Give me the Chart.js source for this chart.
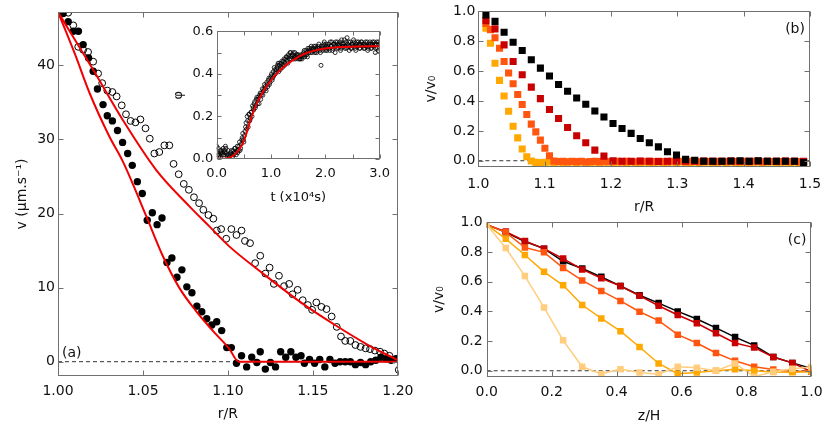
<!DOCTYPE html>
<html>
<head>
<meta charset="utf-8">
<script src="https://cdn.jsdelivr.net/npm/chart.js@4.4.1/dist/chart.umd.min.js"></script>
<style>
body { margin: 0; background: #fff; }
#wrap { position: relative; width: 830px; height: 425px; overflow: hidden; }
canvas { position: absolute; }
</style>
</head>
<body>
<div id="wrap">
  <canvas id="ca" width="420" height="425" style="left:0px;top:0px"></canvas>
  <canvas id="cb" width="410" height="220" style="left:420px;top:0px"></canvas>
  <canvas id="cc" width="410" height="215" style="left:420px;top:210px"></canvas>
  <canvas id="ci" width="237" height="190" style="left:160px;top:20px"></canvas>
</div>
<script>
// ---- panel (a): velocity profiles ----
const filledR = [1.000,1.003,1.006,1.009,1.012,1.0148,1.018,1.0207,1.0232,1.0265,1.029,1.032,1.035,1.038,1.041,1.0437,1.0467,1.0496,1.0525,1.0555,1.0583,1.0612,1.0641,1.067,1.070,1.0729,1.0758,1.0788,1.0817,1.0846,1.0875,1.0905,1.0934,1.0963,1.0993,1.102,1.105,1.108,1.111,1.114,1.117,1.119,1.122,1.125,1.128,1.131,1.134,1.137,1.140,1.143,1.145,1.148,1.151,1.154,1.157,1.160,1.163,1.166,1.169,1.172,1.175,1.178,1.181,1.184,1.187,1.190,1.193,1.196,1.199,1.200];
const filledV = [47.0,47.0,45.9,44.6,44.6,42.8,41.0,39.2,36.8,34.7,33.2,32.5,31.2,29.6,28.1,26.5,24.3,22.7,19.1,20.1,18.5,19.4,13.4,14.0,11.4,12.4,10.1,9.3,7.5,6.75,5.8,4.95,5.4,4.2,1.9,1.9,-0.2,0.8,-0.7,0.6,-0.1,1.35,-1.0,-0.1,-0.7,1.35,0.6,1.35,0.6,0.8,-0.2,0.3,-0.2,0.3,-0.7,0.3,-0.2,0.0,0.0,0.0,-0.4,-0.1,-0.4,0.0,0.2,0.6,0.4,0.2,0.4,0.3];
const openR = [1.006,1.009,1.0119,1.0148,1.0177,1.0207,1.0236,1.026,1.029,1.032,1.0345,1.0375,1.040,1.0427,1.0456,1.0485,1.0515,1.054,1.0567,1.0596,1.0626,1.0655,1.068,1.071,1.074,1.077,1.080,1.083,1.0855,1.0885,1.0914,1.0934,1.096,1.099,1.102,1.105,1.108,1.110,1.113,1.116,1.119,1.122,1.1245,1.127,1.130,1.133,1.136,1.138,1.141,1.144,1.147,1.1495,1.152,1.155,1.158,1.161,1.164,1.1665,1.169,1.172,1.175,1.178,1.181,1.1836,1.1865,1.1895,1.192,1.195,1.198,1.2005];
const openV = [47.1,45.4,42.5,42.1,41.8,40.5,38.9,37.6,36.6,36.4,35.8,34.6,33.4,32.5,32.3,32.7,31.5,30.1,28.1,28.3,29.2,29.2,26.7,25.3,24.0,23.2,22.2,21.4,20.5,19.8,19.3,17.7,17.9,16.6,17.9,17.1,17.7,16.3,16.0,13.3,14.3,11.9,12.7,10.5,11.6,10.2,10.5,9.1,9.7,8.3,7.65,7.0,8.0,7.4,7.1,6.1,4.7,3.4,2.8,2.8,2.25,2.0,1.8,1.7,1.5,1.35,1.1,0.8,0.3,-1.1];
const fitInR = [1.000,1.010,1.0187,1.030,1.0382,1.044,1.052,1.0616,1.0713,1.081,1.091,1.1006,1.1064,1.150,1.200];
const fitInV = [47.2,41.5,36.2,30.5,27.0,24.0,19.6,14.3,10.0,6.9,4.2,1.8,0.0,0.0,0.0];
const fitOutR = [1.000,1.0207,1.0382,1.0577,1.0772,1.0889,1.1006,1.120,1.1435,1.163,1.1825,1.200];
const fitOutV = [47.2,39.4,32.6,25.9,21.0,18.3,15.6,12.0,7.9,4.95,2.25,0.2];
const aTicksX = [1.00,1.05,1.10,1.15,1.20];
const aTicksY = [0,10,20,30,40];

// ---- inset: phi(t) ----
const inT = [0.00,0.02,0.04,0.06,0.08,0.10,0.12,0.14,0.16,0.18,0.20,0.22,0.24,0.26,0.28,0.30,0.32,0.34,0.36,0.38,0.40,0.42,0.44,0.46,0.48,0.50,0.52,0.54,0.56,0.58,0.60,0.62,0.64,0.66,0.68,0.70,0.72,0.74,0.76,0.78,0.80,0.82,0.84,0.86,0.88,0.90,0.92,0.94,0.96,0.98,1.00,1.02,1.04,1.06,1.08,1.10,1.12,1.14,1.16,1.18,1.20,1.22,1.24,1.26,1.28,1.30,1.32,1.34,1.36,1.38,1.40,1.42,1.44,1.46,1.48,1.50,1.52,1.54,1.56,1.58,1.60,1.62,1.64,1.66,1.68,1.70,1.72,1.74,1.76,1.78,1.80,1.82,1.84,1.86,1.88,1.90,1.92,1.94,1.96,1.98,2.00,2.02,2.04,2.06,2.08,2.10,2.12,2.14,2.16,2.18,2.20,2.22,2.24,2.26,2.28,2.30,2.32,2.34,2.36,2.38,2.40,2.42,2.44,2.46,2.48,2.50,2.52,2.54,2.56,2.58,2.60,2.62,2.64,2.66,2.68,2.70,2.72,2.74,2.76,2.78,2.80,2.82,2.84,2.86,2.88,2.90,2.92,2.94,2.96,2.98];
const inPhi = [0.06,0.02,0.01,0.04,0.03,0.02,0.05,0.04,0.06,0.03,0.01,0.02,0.00,0.03,0.02,0.04,0.03,0.05,0.02,0.06,0.04,0.08,0.05,0.09,0.12,0.08,0.13,0.17,0.20,0.15,0.21,0.19,0.22,0.25,0.23,0.27,0.25,0.29,0.28,0.26,0.31,0.30,0.33,0.32,0.35,0.33,0.36,0.34,0.38,0.36,0.39,0.37,0.41,0.43,0.40,0.42,0.44,0.41,0.45,0.43,0.46,0.44,0.47,0.45,0.48,0.46,0.49,0.47,0.50,0.48,0.49,0.47,0.50,0.48,0.49,0.47,0.48,0.47,0.49,0.48,0.50,0.48,0.51,0.49,0.52,0.50,0.51,0.53,0.50,0.52,0.51,0.53,0.50,0.52,0.54,0.51,0.44,0.52,0.53,0.55,0.51,0.53,0.52,0.54,0.51,0.53,0.55,0.52,0.54,0.50,0.53,0.55,0.52,0.54,0.51,0.56,0.53,0.54,0.52,0.55,0.57,0.53,0.51,0.55,0.52,0.54,0.56,0.53,0.51,0.55,0.53,0.54,0.52,0.55,0.53,0.54,0.52,0.55,0.53,0.51,0.54,0.55,0.52,0.54,0.53,0.55,0.50,0.54,0.52,0.55];
const inT2 = [0.01,0.03,0.05,0.07,0.09,0.11,0.13,0.15,0.17,0.19,0.21,0.23,0.25,0.27,0.29,0.31,0.33,0.35,0.37,0.39,0.41,0.43,0.45,0.47,0.49,0.51,0.53,0.55,0.57,0.59,0.61,0.63,0.65,0.67,0.69,0.71,0.73,0.75,0.77,0.79,0.81,0.83,0.85,0.87,0.89,0.91,0.93,0.95,0.97,0.99,1.01,1.03,1.05,1.07,1.09,1.11,1.13,1.15,1.17,1.19,1.21,1.23,1.25,1.27,1.29,1.31,1.33,1.35,1.37,1.39,1.41,1.43,1.45,1.47,1.49,1.51,1.53,1.55,1.57,1.59,1.61,1.63,1.65,1.67,1.69,1.71,1.73,1.75,1.77,1.79,1.81,1.83,1.85,1.87,1.89,1.91,1.93,1.95,1.97,1.99,2.01,2.03,2.05,2.07,2.09,2.11,2.13,2.15,2.17,2.19,2.21,2.23,2.25,2.27,2.29,2.31,2.33,2.35,2.37,2.39,2.41,2.43,2.45,2.47,2.49,2.51,2.53,2.55,2.57,2.59,2.61,2.63,2.65,2.67,2.69,2.71,2.73,2.75,2.77,2.79,2.81,2.83,2.85,2.87,2.89,2.91,2.93,2.95,2.97,2.99];
const inPhi2 = [0.03,0.05,0.02,0.01,0.04,0.03,0.02,0.03,0.05,0.02,0.04,0.01,0.02,0.04,0.01,0.02,0.05,0.03,0.04,0.03,0.06,0.04,0.07,0.10,0.09,0.11,0.15,0.14,0.18,0.21,0.18,0.22,0.20,0.24,0.26,0.24,0.28,0.26,0.29,0.30,0.28,0.31,0.30,0.33,0.34,0.32,0.35,0.37,0.35,0.38,0.40,0.38,0.39,0.42,0.41,0.43,0.45,0.44,0.42,0.45,0.43,0.46,0.44,0.47,0.48,0.45,0.48,0.50,0.47,0.49,0.50,0.48,0.47,0.49,0.48,0.49,0.47,0.48,0.47,0.49,0.51,0.49,0.50,0.48,0.51,0.52,0.50,0.52,0.51,0.53,0.50,0.52,0.51,0.53,0.52,0.50,0.53,0.51,0.54,0.52,0.54,0.51,0.53,0.52,0.55,0.53,0.51,0.54,0.53,0.55,0.52,0.54,0.53,0.55,0.52,0.54,0.53,0.56,0.53,0.52,0.54,0.55,0.53,0.52,0.54,0.53,0.55,0.52,0.54,0.53,0.55,0.52,0.54,0.55,0.53,0.52,0.54,0.53,0.55,0.52,0.53,0.54,0.52,0.55,0.53,0.54,0.52,0.55,0.51,0.54];
const inFitT = [0,0.2,0.3,0.4,0.5,0.56,0.6,0.65,0.71,0.77,0.83,0.9,1.0,1.1,1.2,1.31,1.45,1.6,1.78,2.0,2.3,2.6,3.0];
const inFitV = [0,0.004,0.015,0.04,0.085,0.13,0.165,0.205,0.245,0.278,0.305,0.335,0.37,0.40,0.425,0.448,0.472,0.492,0.508,0.519,0.526,0.529,0.53];
const inTicksX = [0,0.5,1,1.5,2,2.5,3];
const inLabelsX = [0,1,2,3];
const inTicksY = [0,0.1,0.2,0.3,0.4,0.5,0.6];
const inLabelsY = [0,0.2,0.4,0.6];

// ---- panel (b): v/v0 vs r/R ----
const bR = [1.0115,1.0252,1.0389,1.0525,1.0662,1.0799,1.0936,1.1073,1.1210,1.1346,1.1483,1.1620,1.1757,1.1894,1.2031,1.2167,1.2304,1.2441,1.2578,1.2715,1.2852,1.2988,1.3125,1.3262,1.3399,1.3536,1.3673,1.3809,1.3946,1.4083,1.4220,1.4357,1.4494,1.4630,1.4767,1.4904];
const bBlack = [0.976,0.933,0.86,0.793,0.738,0.676,0.62,0.567,0.511,0.465,0.42,0.378,0.333,0.293,0.249,0.216,0.183,0.149,0.12,0.093,0.06,0.038,0.009,0.003,-0.004,-0.004,-0.003,-0.002,0.0,-0.003,0.0,-0.003,-0.003,-0.003,-0.003,-0.012];
const bRed = [0.938,0.883,0.776,0.665,0.576,0.493,0.416,0.343,0.283,0.223,0.167,0.12,0.071,0.031,0.0,-0.003,-0.004,-0.002,-0.003,-0.005,-0.003,-0.002,-0.004,-0.003,-0.002,-0.004,-0.003,-0.002,-0.003,-0.004,-0.002,-0.003,-0.004,-0.002,-0.003,-0.004];
const bRf = [1.0115,1.0183,1.0252,1.0320,1.0389,1.0457,1.0525,1.0594,1.0662,1.0731,1.0799,1.0867,1.0936,1.1004,1.1073,1.1141,1.1210,1.1278,1.1346,1.1415,1.1483,1.1552,1.1620,1.1688,1.1757,1.1825,1.1894,1.1962,1.2031,1.2099,1.2167,1.2236,1.2304,1.2373,1.2441,1.2509,1.2578,1.2646,1.2715,1.2783,1.2852,1.2920,1.2988,1.3057,1.3125,1.3194,1.3262,1.3330,1.3399,1.3467,1.3536,1.3604,1.3673,1.3741,1.3809,1.3878,1.3946,1.4015,1.4083,1.4151,1.4220,1.4288,1.4357,1.4425,1.4494,1.4562,1.4630,1.4699,1.4767,1.4836,1.4904];
const bOrangeRed = [0.92,0.878,0.823,0.753,0.665,0.587,0.516,0.443,0.376,0.309,0.245,0.193,0.138,0.083,0.033,-0.002,
  -0.005,-0.004,-0.007,-0.003,-0.006,-0.004,-0.008,-0.005,-0.003,-0.006,-0.004,-0.007,-0.005,-0.003,-0.006,-0.004,-0.005,-0.007,-0.003,-0.005,
  -0.004,-0.006,-0.003,-0.005,-0.007,-0.004,-0.005,-0.003,-0.006,-0.004,-0.005,-0.007,-0.003,-0.005,-0.004,-0.006,-0.003,-0.005,-0.004,-0.006,
  -0.005,-0.003,-0.006,-0.004,-0.005,-0.007,-0.003,-0.005,-0.004,-0.006,-0.003,-0.005,-0.004,-0.006,-0.005];
const bOrange = [0.887,0.787,0.653,0.538,0.433,0.331,0.231,0.153,0.078,0.027,-0.002,-0.011,-0.012,-0.010,
  -0.009,-0.011,-0.008,-0.012,-0.010,-0.009,-0.011,-0.008,-0.010,-0.012,-0.009,-0.011,-0.010,-0.008,-0.012,-0.010,-0.009,-0.011,-0.008,-0.010,
  -0.012,-0.009,-0.011,-0.010,-0.008,-0.012,-0.010,-0.009,-0.011,-0.008,-0.010,-0.012,-0.009,-0.011,-0.010,-0.008,-0.012,-0.010,-0.009,-0.011,
  -0.008,-0.010,-0.012,-0.009,-0.011,-0.010,-0.008,-0.012,-0.010,-0.009,-0.011,-0.008,-0.010,-0.012,-0.009,-0.011,-0.010];
const bTicksX = [1.0,1.1,1.2,1.3,1.4,1.5];
const vTicks = [0,0.2,0.4,0.6,0.8,1.0];

// ---- panel (c): v/v0 vs z/H ----
const cZ = [0,0.0588,0.1176,0.1765,0.2353,0.2941,0.3529,0.4118,0.4706,0.5294,0.5882,0.6471,0.7059,0.7647,0.8235,0.8824,0.9412,1.0];
const cBlack = [0.985,0.933,0.871,0.823,0.738,0.689,0.633,0.571,0.509,0.456,0.40,0.349,0.289,0.227,0.171,0.093,0.053,0.016];
const cRed = [0.985,0.938,0.875,0.823,0.756,0.683,0.623,0.571,0.505,0.438,0.376,0.32,0.253,0.187,0.156,0.093,0.053,-0.007];
const cOrangeRed = [0.985,0.933,0.831,0.798,0.693,0.609,0.538,0.471,0.398,0.338,0.243,0.187,0.12,0.067,0.027,0.009,-0.007,0.0];
const cOrange = [0.985,0.889,0.78,0.667,0.576,0.443,0.353,0.267,0.16,0.049,-0.02,-0.012,0.0,0.01,0.0,-0.008,-0.01,-0.007];
const cPale = [0.985,0.827,0.638,0.427,0.205,0.027,-0.022,0.011,-0.011,-0.024,0.027,0.02,0.0,0.049,-0.04,-0.007,0.013,0.025];
const cTicksX = [0,0.2,0.4,0.6,0.8,1.0];

const RED = 'rgb(240,0,0)';
const C_BLACK = '#000', C_RED = 'rgb(200,0,0)', C_OR = 'rgb(255,85,15)', C_OR2 = 'rgb(255,168,0)', C_PALE = 'rgb(255,205,125)';

Chart.defaults.font.family = "'DejaVu Sans', Verdana, sans-serif";
Chart.defaults.color = '#111';

function pts(xs, ys) {
  const out = [];
  for (let i = 0; i < Math.min(xs.length, ys.length); i++) out.push({x: xs[i], y: ys[i]});
  return out;
}

// frame with inward ticks on all four sides + panel letter
const frame = {
  id: 'frame',
  afterDatasetsDraw(chart, args, o) {
    const {ctx, chartArea: a} = chart;
    const sx = chart.scales.x, sy = chart.scales.y;
    const L = Math.round(a.left) + 0.5, R = Math.round(a.right) - 0.5;
    const T = Math.round(a.top) + 0.5, B = Math.round(a.bottom) - 0.5;
    ctx.save();
    ctx.strokeStyle = '#707070';
    ctx.lineWidth = 1;
    ctx.strokeRect(L, T, R - L, B - T);
    ctx.beginPath();
    sx.ticks.forEach(t => {
      const p = Math.round(sx.getPixelForValue(t.value)) + 0.5;
      ctx.moveTo(p, B); ctx.lineTo(p, B - o.len);
      ctx.moveTo(p, T); ctx.lineTo(p, T + o.len);
    });
    sy.ticks.forEach(t => {
      const p = Math.round(sy.getPixelForValue(t.value)) + 0.5;
      ctx.moveTo(L, p); ctx.lineTo(L + o.len, p);
      ctx.moveTo(R, p); ctx.lineTo(R - o.len, p);
    });
    ctx.stroke();
    if (o.text) {
      ctx.fillStyle = '#111';
      ctx.font = "14px 'DejaVu Sans'";
      ctx.textAlign = o.right ? 'right' : 'left';
      ctx.textBaseline = 'alphabetic';
      const x = o.right ? a.right - 5 : a.left + 4;
      const y = o.top ? a.top + 22 : a.bottom - 19;
      ctx.fillText(o.text, x, y);
    }
    ctx.restore();
  }
};

function axis(min, max, tickVals, labelVals, digits, title, size, tickPad, titlePad, fixed, horiz) {
  return {
    type: 'linear', min: min, max: max,
    afterBuildTicks: s => { s.ticks = tickVals.map(v => ({value: v})); },
    afterFit: s => { if (horiz) s.height = fixed; else s.width = fixed; },
    grid: {display: false, drawTicks: false},
    border: {display: false},
    ticks: {
      padding: tickPad, autoSkip: false, maxRotation: 0, font: {size: size}, color: '#111',
      callback: v => labelVals.some(l => Math.abs(l - v) < 1e-9) ? v.toFixed(digits) : ''
    },
    title: {display: true, text: title, font: {size: size}, color: '#111', padding: {top: titlePad, bottom: titlePad}}
  };
}

function base(padding, frameOpts, scales) {
  return {
    responsive: false, animation: false, devicePixelRatio: 1,
    layout: {padding: padding},
    plugins: {legend: {display: false}, tooltip: {enabled: false}, frame: frameOpts},
    scales: scales
  };
}

function zeroLine(x0, x1) {
  return {data: [{x: x0, y: 0}, {x: x1, y: 0}], showLine: true, borderColor: '#333', borderWidth: 1, borderDash: [4, 3], pointRadius: 0};
}

// (a)
new Chart(document.getElementById('ca'), {
  type: 'scatter',
  plugins: [frame],
  data: {datasets: [
    {data: pts(fitInR, fitInV), showLine: true, borderColor: RED, borderWidth: 2, pointRadius: 0, cubicInterpolationMode: 'monotone'},
    {data: pts(fitOutR, fitOutV), showLine: true, borderColor: RED, borderWidth: 2, pointRadius: 0, cubicInterpolationMode: 'monotone'},
    {data: pts(filledR, filledV), pointRadius: 3.7, backgroundColor: '#000', borderColor: '#000', borderWidth: 0},
    {data: pts(openR, openV), pointRadius: 3.4, backgroundColor: 'rgba(0,0,0,0)', borderColor: '#000', borderWidth: 1},
    zeroLine(1.0, 1.2)
  ]},
  options: base({top: 12, right: 20, left: 0, bottom: 0}, {len: 5, text: '(a)'}, {
    x: axis(1.0, 1.2, aTicksX, aTicksX, 2, 'r/R', 14, 6.5, 2.6, 49, true),
    y: axis(-1.93, 47.2, aTicksY, aTicksY, 0, 'v (\u03bcm.s\u207b\u00b9)', 14, 3, 13.6, 58, false)
  })
});

// inset
new Chart(document.getElementById('ci'), {
  type: 'scatter',
  plugins: [frame],
  data: {datasets: [
    {data: pts(inFitT, inFitV), showLine: true, borderColor: RED, borderWidth: 2, pointRadius: 0, cubicInterpolationMode: 'monotone'},
    {data: pts(inT, inPhi), pointRadius: 2, backgroundColor: 'rgba(0,0,0,0)', borderColor: '#000', borderWidth: 0.8},
    {data: pts(inT2, inPhi2), pointRadius: 2, backgroundColor: 'rgba(0,0,0,0)', borderColor: '#000', borderWidth: 0.8}
  ]},
  options: base({top: 10.7, right: 12, left: 0, bottom: 0}, {len: 4}, {
    x: axis(0, 3, inTicksX, inLabelsX, 1, 't (x10\u2074s)', 13, 7, 4.5, 51, true),
    y: axis(0, 0.6, inTicksY, inLabelsY, 1, '\u03c6', 13, 3.5, 10.7, 56.7, false)
  })
});

// (b)
new Chart(document.getElementById('cb'), {
  type: 'scatter',
  plugins: [frame],
  data: {datasets: [
    {data: pts(bR, bBlack), pointStyle: 'rect', pointRadius: 5, backgroundColor: C_BLACK, borderWidth: 0},
    {data: pts(bR, bRed), pointStyle: 'rect', pointRadius: 5, backgroundColor: C_RED, borderWidth: 0},
    {data: pts(bRf, bOrangeRed), pointStyle: 'rect', pointRadius: 5, backgroundColor: C_OR, borderWidth: 0},
    {data: pts(bRf, bOrange), pointStyle: 'rect', pointRadius: 5, backgroundColor: C_OR2, borderWidth: 0},
    zeroLine(1.0, 1.5)
  ]},
  options: base({top: 10.7, right: 16.7, left: 0, bottom: 0}, {len: 5, text: '(b)', right: true, top: true}, {
    x: axis(1.0, 1.5, bTicksX, bTicksX, 1, 'r/R', 14, 8.9, 4.6, 53.3, true),
    y: axis(-0.04, 1.0, vTicks, vTicks, 1, 'v/v\u2080', 14, 3, 2.6, 58.3, false)
  })
});

// (c)
function cSet(ys, col) {
  return {data: pts(cZ, ys), showLine: true, borderColor: col, borderWidth: 1.5, pointStyle: 'rect', pointRadius: 4.6, backgroundColor: col, pointBorderWidth: 0};
}
new Chart(document.getElementById('cc'), {
  type: 'scatter',
  plugins: [frame],
  data: {datasets: [
    cSet(cPale, C_PALE),
    cSet(cOrange, C_OR2),
    cSet(cOrangeRed, C_OR),
    cSet(cRed, C_RED),
    cSet(cBlack, C_BLACK),
    zeroLine(0, 1.0)
  ]},
  options: base({top: 10.7, right: 16.7, left: 0, bottom: 0}, {len: 5, text: '(c)', right: true, top: true}, {
    x: axis(0, 1.0, cTicksX, cTicksX, 1, 'z/H', 14, 7.4, 0.6, 48.3, true),
    y: axis(-0.04, 1.0, vTicks, vTicks, 1, 'v/v\u2080', 14, 4, 10.6, 66.7, false)
  })
});
</script>
</body>
</html>
